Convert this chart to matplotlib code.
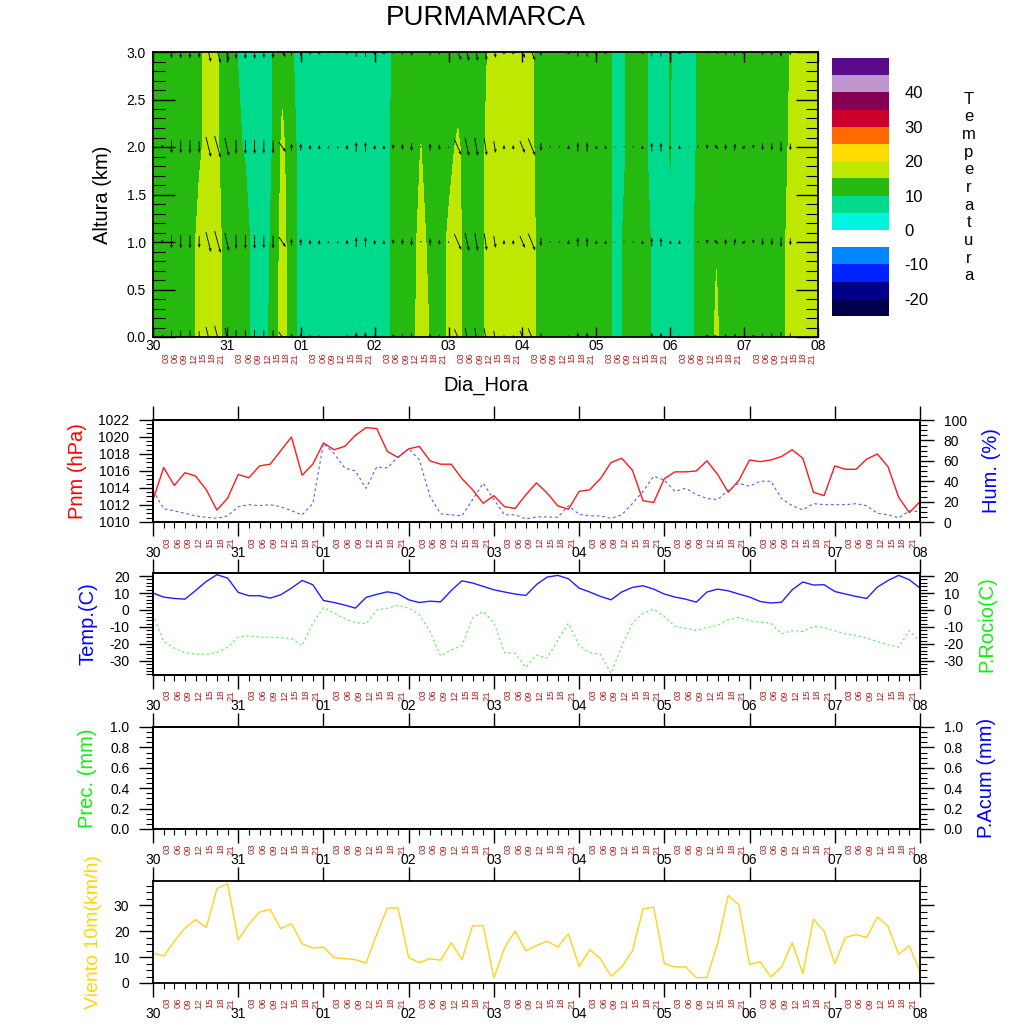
import matplotlib
matplotlib.use('Agg')
import matplotlib.pyplot as plt
import numpy as np
from matplotlib.ticker import MultipleLocator

plt.rcParams['font.family'] = ['Liberation Sans', 'DejaVu Sans']
plt.rcParams['axes.linewidth'] = 1.3
plt.rcParams['axes.unicode_minus'] = False

# ---- datos (cada 3 horas, 30 00h -> 08 00h) ----
dias = ['30', '31', '01', '02', '03', '04', '05', '06', '07', '08']
horas = ['03', '06', '09', '12', '15', '18', '21']
alturas = [0, 1, 2, 3]

temp_0km = [12, 12, 12, 12, 12, 17, 17, 17, 12, 12, 12, 8, 8, 12, 17.5, 12,
            8, 8, 8, 8, 8, 8, 8, 8, 8, 8, 11, 12, 12, 19, 14.5, 12, 16, 17, 12, 12,
            15.5, 17, 17, 17, 17, 17, 12, 12, 12, 12, 12, 12, 12, 13, 8, 10.5, 12, 13,
            9.5, 8, 8, 8, 8.5, 11, 12, 16, 12, 12, 12, 12, 12, 12, 12, 18, 17, 17, 17]
temp_1km = [12, 12, 12, 12, 12, 17, 17, 17, 12, 12, 12, 8, 8, 11, 17, 12,
            8, 8, 8, 8, 8, 8, 8, 8, 8, 8, 11, 12, 12, 17.5, 13, 12, 16, 17, 12, 12,
            15.5, 17, 17, 17, 17, 17, 12, 12, 12, 12, 12, 12, 12, 13, 8, 10.5, 12, 13,
            9.5, 8, 9.5, 8, 8.5, 11, 12, 14.6, 12, 12, 12, 12, 12, 12, 12, 18, 17, 17, 17]
temp_2km = [12, 12, 12, 12, 12, 14, 17, 15.5, 12, 11, 9.5, 8, 8, 10.2, 16, 12,
            8, 8, 8, 8, 8, 8, 8, 8, 8, 8, 11, 12, 12, 15.1, 12, 12, 13, 16, 12, 12,
            15.2, 17, 17, 17, 17, 16, 12, 12, 12, 12, 12, 12, 12, 13, 8.5, 9.5, 12, 12,
            8, 8, 10.15, 8, 8, 10.5, 12, 12, 12, 12, 12, 12, 12, 12, 12, 16, 17, 17, 17]
temp_3km = [12, 12, 12, 12, 12, 14, 17, 15.5, 12, 10.2, 8, 8, 8, 10.2, 13.5, 10.5,
            8, 8, 8, 8, 8, 8, 8, 8, 8, 8, 10.3, 12, 12, 12, 12, 12, 12, 11, 12, 12,
            14.5, 17, 17, 17, 17, 15.5, 12, 12, 12, 12, 12, 12, 12, 13, 8, 9.5, 12, 12,
            8, 8, 10.2, 8, 8, 10.5, 12, 12, 12, 12, 12, 12, 12, 12, 12, 15.2, 17, 17, 17]

viento_u = [0, 0, 0, 0, 0, 0, 5, 6, 4, 0, 0, 0, 0, 0, 7, 0, 0, 0, 0, 0, 0, 0, 0, 0,
            0, 0, 0, 0, 0, 0, 0, 0, 0, 7, 4, 3, 2.5, 2, 0, 0, 5, 7, 0, 0, 0, 0, 0, 0,
            0, 0, 0, 0, 0, 0, 0, 0, 0, 0, 0.7, 0, 0, 4, 0, 1, 3, 0, 0, 0, 0, 0, 0, 0, 0]
viento_v = [-2.7, -3.3, -13, -13, -13, -12, -20, -22, -18, -14, -14, -14, -13, -13, -10,
            7, 7, 5, 4.5, 2.5, 2.5, 5, 10, 10, 4.5, 4, -4.5, -6, -8, -2, 7, 5, 2,
            -16, -18, -18, -17, -12, 4.5, 4.5, -12, -17, -8, -2, -2, 4, 9, 9, 3.5, 3.5,
            1.5, -1.5, -2, 3.5, 9, 9, 3.5, 4, -1, -2, -4, -4, 6, 7, 3, -3.5, -7, -7,
            -10, -7, 1.5, 1.5, 0]

pnm = [1012.6, 1016.4, 1014.3, 1015.8, 1015.4, 1013.8, 1011.4, 1012.8, 1015.6, 1015.2,
       1016.6, 1016.8, 1018.4, 1020.0, 1015.5, 1016.8, 1019.3, 1018.5, 1018.9, 1020.2,
       1021.1, 1021.0, 1018.3, 1017.6, 1018.6, 1018.9, 1017.2, 1016.8, 1016.8, 1015.1,
       1013.8, 1012.2, 1013.1, 1011.8, 1011.6, 1013.2, 1014.6, 1013.4, 1011.9, 1011.5,
       1013.6, 1013.8, 1015.1, 1017.0, 1017.5, 1016.1, 1012.5, 1012.3, 1015.1, 1015.9,
       1015.9, 1016.0, 1017.2, 1015.6, 1013.5, 1014.9, 1017.3, 1017.1, 1017.3, 1017.7,
       1018.5, 1017.5, 1013.5, 1013.1, 1016.6, 1016.2, 1016.2, 1017.4, 1018.0, 1016.5,
       1012.9, 1011.1, 1012.4]
humedad = [31, 13, 11, 8.5, 6, 4.6, 3.6, 6, 15, 17, 16, 17, 15, 11, 7, 18, 77, 67, 53,
           50, 33, 54, 53, 64, 72, 61, 25, 8, 7, 6, 22, 38, 22, 7, 7, 3, 5, 5, 4.6, 16,
           7.5, 6, 6, 3.6, 7, 18, 30, 45, 41, 30, 33, 27, 23, 22, 31, 38, 35, 40, 40, 23,
           16, 12, 18, 17, 17, 17, 18, 16, 8.5, 7, 4, 11, 10]
temperatura = [10.0, 7.6, 6.8, 6.4, 11.5, 16.8, 20.8, 18.8, 10.4, 8.4, 8.4, 7.0, 9.0,
               12.9, 17.4, 14.9, 5.6, 4.4, 2.9, 1.1, 7.4, 9.2, 10.7, 9.6, 6.0, 4.4, 5.2,
               4.8, 11.5, 17.2, 15.9, 13.9, 11.9, 10.6, 9.4, 8.6, 15.0, 19.4, 20.4, 18.4,
               12.9, 10.6, 8.0, 6.0, 10.6, 13.3, 14.3, 12.3, 9.4, 7.6, 6.4, 4.6, 10.6, 12.3,
               11.3, 9.4, 7.6, 5.0, 4.1, 4.6, 11.9, 16.5, 14.7, 14.9, 10.9, 9.4, 8.0, 6.8,
               13.5, 17.4, 20.4, 17.8, 12.9]
rocio = [-2.8, -18.6, -22.5, -25.1, -26.1, -26.1, -25.1, -22.0, -16.0, -15.2, -16.0,
         -16.0, -16.4, -16.8, -21.1, -7.8, 1.5, -1.8, -5.2, -7.4, -8.1, 0.0, 1.1, 2.7, 1.1,
         -2.8, -12.7, -27.1, -23.5, -21.1, -4.8, -0.9, -7.4, -25.1, -25.5, -33.8, -26.5,
         -28.4, -17.6, -7.8, -21.1, -25.1, -26.1, -37.3, -21.5, -7.8, -1.9, 0.5, -3.8,
         -9.7, -10.7, -12.1, -10.3, -9.1, -5.8, -4.4, -6.4, -7.2, -7.8, -14.1, -12.1,
         -12.7, -9.7, -10.3, -12.3, -14.1, -15.0, -16.6, -18.6, -20.5, -21.9, -12.1, -18.6]
viento10 = [11.6, 10.4, 16.1, 21.2, 24.5, 21.4, 36.4, 38.4, 16.7, 22.7, 27.4, 28.4, 21.0,
            22.9, 15.2, 13.5, 13.9, 9.8, 9.4, 9.0, 7.7, 18.8, 29.0, 29.0, 9.8, 7.9, 9.4,
            8.8, 15.6, 9.0, 22.1, 22.1, 1.9, 13.6, 20.1, 12.4, 14.5, 16.1, 13.9, 19.0, 6.4,
            12.9, 9.4, 2.6, 6.2, 12.4, 28.6, 29.3, 7.5, 6.2, 6.2, 2.1, 2.1, 15.2, 33.8,
            30.2, 7.2, 8.2, 2.3, 6.2, 15.6, 3.6, 24.7, 19.9, 7.5, 17.6, 18.7, 17.6, 25.5,
            21.9, 11.1, 14.4, 4.2]

niveles = list(range(-25, 55, 5))
colores = ['#00004B', '#00008C', '#0023FF', '#0087FF', '#FFFFFF', '#00F5E1', '#00DA8C',
           '#26B90F', '#BEE800', '#FFDC00', '#FF6900', '#CD002D', '#850055', '#BE96CD',
           '#5B0A8A']

t = np.arange(len(pnm))
W = 1024.0


def caja(x0, y0, x1, y1):
    return [x0 / W, 1 - y1 / W, (x1 - x0) / W, (y1 - y0) / W]


def etiquetas_x(ax, dy_dia, dy_hora):
    for i, d in enumerate(dias):
        ax.annotate(d, xy=(i * 8, 0), xycoords=('data', 'axes fraction'),
                    xytext=(0, dy_dia), textcoords='offset points',
                    ha='center', va='top', fontsize=10, annotation_clip=False)
        if i == len(dias) - 1:
            continue
        for j, h in enumerate(horas):
            ax.annotate(h, xy=(i * 8 + j + 1, 0), xycoords=('data', 'axes fraction'),
                        xytext=(2.5, dy_hora), textcoords='offset points',
                        ha='center', va='top', rotation=90, fontsize=6.8,
                        color='#B22222', annotation_clip=False)


def panel(y0, y1):
    ax = fig.add_axes(caja(153, y0, 920, y1))
    ax.set_xlim(0, 72)
    ax.set_xticks(range(0, 73, 8))
    ax.set_xticks(t, minor=True)
    ax.set_xticklabels([])
    ax.tick_params(axis='x', which='major', direction='out', length=10, width=1,
                   top=True, bottom=True)
    ax.tick_params(axis='x', which='minor', direction='out', length=4.5, width=0.8,
                   top=False, bottom=True)
    etiquetas_x(ax, -17.5, -10.8)
    return ax


def eje_y(ax, lo, hi, paso, menor, fmt=None):
    ax.set_ylim(lo, hi)
    ax.yaxis.set_major_locator(MultipleLocator(paso))
    ax.yaxis.set_minor_locator(MultipleLocator(menor))
    if fmt:
        ax.yaxis.set_major_formatter(fmt)
    ax.tick_params(axis='y', which='major', direction='out', length=10, width=1,
                   labelsize=10, pad=7)
    ax.tick_params(axis='y', which='minor', direction='out', length=5, width=0.8)


fig = plt.figure(figsize=(10.24, 10.24), dpi=100)
fig.text(486 / W, 1 - 18 / W, 'PURMAMARCA', ha='center', va='center', fontsize=20)

# ---- corte altura-tiempo ----
ax0 = fig.add_axes(caja(153, 52, 818, 337))
campo = np.array([temp_0km, temp_1km, temp_2km, temp_3km])
cs = ax0.contourf(t, alturas, campo, levels=niveles, colors=colores)
X, Z = np.meshgrid(t, alturas)
ax0.quiver(X, Z, np.tile(viento_u, (4, 1)), np.tile(viento_v, (4, 1)),
           angles='uv', scale_units='inches', scale=100, pivot='middle',
           width=0.0013, headwidth=3.5, headlength=4.5, headaxislength=4, color='k')
ax0.set_xlim(0, 72)
ax0.set_ylim(0, 3)
ax0.set_xticks(range(0, 73, 8))
ax0.set_xticklabels([])
ax0.yaxis.set_major_locator(MultipleLocator(0.5))
ax0.yaxis.set_minor_locator(MultipleLocator(0.1))
ax0.yaxis.set_major_formatter('{x:.1f}')
ax0.tick_params(axis='y', which='both', direction='in', left=True, right=True,
                labelsize=10, pad=5)
ax0.tick_params(axis='y', which='major', length=16, width=1)
ax0.tick_params(axis='y', which='minor', length=8.5, width=0.8)
ax0.tick_params(axis='x', which='major', direction='in', top=True, length=7, width=1)
ax0.set_ylabel('Altura (km)', fontsize=14.5)
ax0.yaxis.set_label_coords(-0.062, 0.5)
etiquetas_x(ax0, -1.5, -11.5)
fig.text(486 / W, 1 - 385 / W, 'Dia_Hora', ha='center', va='center', fontsize=14.5)

cax = fig.add_axes(caja(832, 58, 889, 316))
cb = fig.colorbar(cs, cax=cax, ticks=range(-20, 45, 10))
cb.outline.set_visible(False)
cax.tick_params(length=0, labelsize=12, pad=11)
fig.text(969 / W, 1 - 187.5 / W, '\n'.join('Temperatura'), ha='center', va='center',
         fontsize=12, linespacing=1.22)

# ---- presion y humedad ----
ax1 = panel(420, 522)
ax1.plot(t, pnm, color='#FF1A1A', lw=1)
eje_y(ax1, 1010, 1022, 2, 0.5)
ax1.set_ylabel('Pnm (hPa)', color='#FF0000', fontsize=14.5)
ax1.yaxis.set_label_coords(-0.0854, 0.5)
ax1b = ax1.twinx()
ax1b.plot(t, humedad, color='#5A5AFF', lw=0.8, dashes=(2.5, 2.5))
eje_y(ax1b, 0, 100, 20, 5)
ax1b.set_ylabel('Hum. (%)', color='#0000FF', fontsize=14.5)
ax1b.yaxis.set_label_coords(1.0809, 0.5)

# ---- temperatura y punto de rocio ----
ax2 = panel(573, 675)
ax2.plot(t, temperatura, color='#2020FF', lw=1)
eje_y(ax2, -38.3, 21.8, 10, 2)
ax2.set_ylabel('Temp.(C)', color='#0000FF', fontsize=14.5)
ax2.yaxis.set_label_coords(-0.0724, 0.5)
ax2b = ax2.twinx()
ax2b.plot(t, rocio, color='#55EE55', lw=0.8, dashes=(2, 2.5))
eje_y(ax2b, -38.3, 21.8, 10, 2)
ax2b.set_ylabel('P.Rocio(C)', color='#11EE11', fontsize=14.5)
ax2b.yaxis.set_label_coords(1.0744, 0.5)

# ---- precipitacion ----
ax3 = panel(727, 829)
eje_y(ax3, 0, 1, 0.2, 0.05, '{x:.1f}')
ax3.set_ylabel('Prec. (mm)', color='#11EE11', fontsize=14.5)
ax3.yaxis.set_label_coords(-0.0724, 0.5)
ax3b = ax3.twinx()
eje_y(ax3b, 0, 1, 0.2, 0.05, '{x:.1f}')
ax3b.set_ylabel('P.Acum (mm)', color='#0000FF', fontsize=14.5)
ax3b.yaxis.set_label_coords(1.0744, 0.5)

# ---- viento 10 m ----
ax4 = panel(881, 983)
ax4.plot(t, viento10, color='#FFD21A', lw=1)
eje_y(ax4, 0, 39.4, 10, 2.5)
ax4.tick_params(axis='y', which='both', right=True, labelright=False)
ax4.set_ylabel('Viento 10m(km/h)', color='#FFD700', fontsize=14)
ax4.yaxis.set_label_coords(-0.0671, 0.5)

fig.savefig('out.png', dpi=100)
